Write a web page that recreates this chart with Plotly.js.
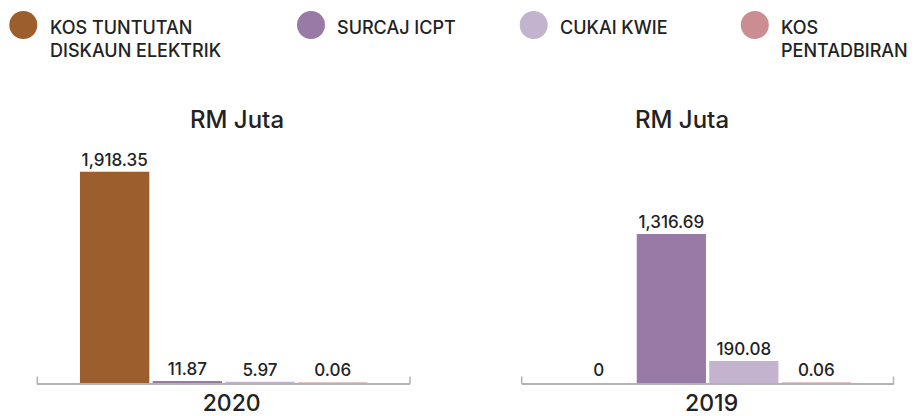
<!DOCTYPE html>
<html>
<head>
<meta charset="utf-8">
<script src="https://cdn.plot.ly/plotly-3.0.1.min.js"></script>
<style>
html,body{margin:0;padding:0;background:#fff;}
#chart{width:914px;height:416px;}
</style>
</head>
<body>
<div id="chart"></div>
<script>
// ---- data ----
var seriesNames = ["KOS TUNTUTAN<br>DISKAUN ELEKTRIK", "SURCAJ ICPT", "CUKAI KWIE", "KOS<br>PENTADBIRAN"];
var seriesColors = ["#9B5E2C", "#997AA6", "#C4B3CF", "#CC8D92"];
var years = ["2020", "2019"];
var values2020 = [1918.35, 11.87, 5.97, 0.06];
var values2019 = [0, 1316.69, 190.08, 0.06];
var unitLabel = "RM Juta";

// ---- layout helpers ----
var W = 914, H = 416;
var FONT = "Inter, DejaVu Sans, sans-serif";
function px(x){ return x / W; }
function py(y){ return (H - y) / H; }
function fmt(v){
  if (v === 0) return "0";
  return v.toLocaleString("en-US", {minimumFractionDigits: 2, maximumFractionDigits: 2});
}

var allValues = [values2020, values2019];
var traces = [];
for (var p = 0; p < 2; p++) {
  for (var s = 0; s < seriesNames.length; s++) {
    var v = allValues[p][s];
    traces.push({
      type: "bar",
      name: seriesNames[s].replace("<br>", " "),
      x: [years[p]],
      y: [v],
      xaxis: p === 0 ? "x" : "x2",
      yaxis: p === 0 ? "y" : "y2",
      marker: {color: seriesColors[s], line: {color: seriesColors[s], width: v === 0 ? 0 : 1.8}},
      text: [fmt(v)],
      textposition: "outside",
      cliponaxis: false,
      textfont: {family: FONT, size: 17, color: "#222", weight: 500},
      hoverinfo: "skip",
      showlegend: false
    });
  }
}

var plotTop = 140, plotBottom = 383.3;
var yDomain = [py(plotBottom), py(plotTop)];

var axisCommon = {
  type: "category",
  ticks: "",
  showline: true,
  linecolor: "#b3b3b3",
  linewidth: 2,
  showgrid: false,
  zeroline: false,
  fixedrange: true,
  tickfont: {family: FONT, size: 23, color: "#222", weight: 500},
  ticklabelstandoff: -2
};

var xDomL = [px(37.3), px(410)], xDomR = [px(521.7), px(893.5)];
var layout = {
  width: W, height: H,
  margin: {l: 0, r: 0, t: 0, b: 0},
  paper_bgcolor: "#fff",
  plot_bgcolor: "rgba(0,0,0,0)",
  barmode: "group",
  bargap: 0.22,
  bargroupgap: 0.07,
  showlegend: false,
  xaxis: Object.assign({}, axisCommon, {domain: xDomL, anchor: "y", ticklabelshift: 8}),
  xaxis2: Object.assign({}, axisCommon, {domain: xDomR, anchor: "y2", ticklabelshift: 4}),
  yaxis: {domain: yDomain, range: [0, 2216], visible: false, fixedrange: true},
  yaxis2: {domain: yDomain, range: [0, 2160], visible: false, fixedrange: true},
  shapes: [],
  annotations: []
};

// small end ticks on each baseline
[xDomL, xDomR].forEach(function(d){
  d.forEach(function(xx){
    layout.shapes.push({
      type: "line", xref: "paper", yref: "paper",
      x0: xx, x1: xx, y0: py(384.3), y1: py(376.5),
      line: {color: "#b3b3b3", width: 1.5}
    });
  });
});

// titles above each panel
var titleX = [237, 682];
for (var t = 0; t < 2; t++) {
  layout.annotations.push({
    xref: "paper", yref: "paper", x: px(titleX[t]), y: py(119),
    xanchor: "center", yanchor: "middle", showarrow: false,
    text: unitLabel, font: {family: FONT, size: 24, color: "#222", weight: 500}
  });
}

// legend built from series arrays
var legCircleX = [23.3, 311, 533.7, 754.8];
var legTextX = [48.3, 335, 558, 779];
for (var i = 0; i < seriesNames.length; i++) {
  var cx = legCircleX[i], cy = 25, r = 14;
  layout.shapes.push({
    type: "circle", xref: "paper", yref: "paper",
    x0: px(cx - r), x1: px(cx + r), y0: py(cy + r), y1: py(cy - r),
    fillcolor: seriesColors[i], line: {width: 0}
  });
  layout.annotations.push({
    xref: "paper", yref: "paper", x: px(legTextX[i]), y: py(15),
    xanchor: "left", yanchor: "top", align: "left", showarrow: false,
    text: seriesNames[i], font: {family: FONT, size: 18, color: "#222", weight: 500}
  });
}

Plotly.newPlot("chart", traces, layout, {displayModeBar: false, staticPlot: true});
</script>
</body>
</html>
